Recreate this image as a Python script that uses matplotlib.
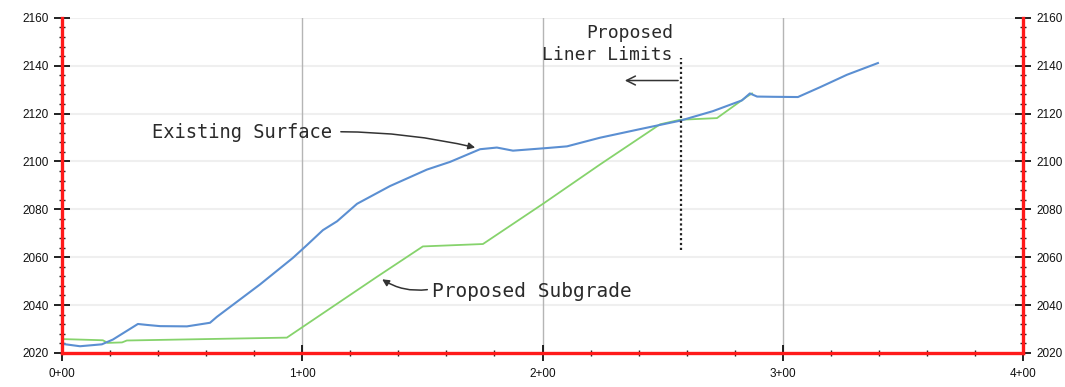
import numpy as np
import matplotlib.pyplot as plt
from matplotlib.ticker import MultipleLocator, FuncFormatter

# station (ft) and elevation (ft) of the existing ground
existing_sta = [0, 7.5, 16.6, 21.2, 31.6, 35.4, 40.8, 52.0, 61.6, 64.5, 82.4, 96.1,
                102.0, 108.6, 114.5, 122.8, 136.5, 151.9, 161.5, 174.0, 181.0, 187.7,
                201.9, 210.2, 223.9, 240.6, 257.2, 270.9, 283.0, 286.3, 289.3, 295.9,
                306.3, 315.5, 326.7, 339.6]
existing_elev = [2023.8, 2022.8, 2023.6, 2025.6, 2032.1, 2031.7, 2031.2, 2031.1, 2032.6,
                 2035.1, 2048.6, 2059.7, 2065.1, 2071.3, 2075.0, 2082.3, 2089.7, 2096.6,
                 2099.8, 2105.1, 2105.8, 2104.5, 2105.6, 2106.3, 2109.9, 2113.5, 2117.0,
                 2121.0, 2125.5, 2128.4, 2127.1, 2127.0, 2126.9, 2131.0, 2136.2, 2141.1]

# proposed subgrade
subgrade_sta = [0, 17.0, 19.0, 25.0, 27.0, 93.6, 131.1, 150.2, 175.2, 200.2, 223.9,
                248.9, 257.2, 272.6, 285.1, 287.2]
subgrade_elev = [2025.8, 2025.3, 2024.2, 2024.4, 2025.2, 2026.4, 2051.8, 2064.5, 2065.5,
                 2082.3, 2098.7, 2115.5, 2117.4, 2118.1, 2127.1, 2128.4]

liner_limit_sta = 257.6

fig = plt.figure(figsize=(10.65, 3.87), dpi=100)
ax = fig.add_axes([0.0582, 0.088, 0.9024, 0.866])

ax.set_xlim(0, 400)
ax.set_ylim(2020, 2160)

# grid
for yy in range(2040, 2161, 20):
    ax.axhline(yy, color='#efefef', lw=1.5, zorder=0)
for xx in (100, 200, 300):
    ax.axvline(xx, color='#b5b5b5', lw=1.0, zorder=0)

ax.plot(subgrade_sta, subgrade_elev, color='#86d36c', lw=1.3, zorder=3)
ax.plot(existing_sta, existing_elev, color='#5b8fd2', lw=1.5, zorder=4)

# spines
for side in ('left', 'right', 'bottom'):
    ax.spines[side].set_color('#ff1a1a')
    ax.spines[side].set_linewidth(2.4)
    ax.spines[side].set_zorder(5)
ax.spines['top'].set_visible(False)

ax.xaxis.set_major_locator(MultipleLocator(100))
ax.xaxis.set_minor_locator(MultipleLocator(20))
ax.yaxis.set_major_locator(MultipleLocator(20))
ax.yaxis.set_minor_locator(MultipleLocator(4))
ax.xaxis.set_major_formatter(FuncFormatter(lambda v, p: f"{int(v // 100)}+{int(v % 100):02d}"))

ax.tick_params(which='major', direction='inout', length=11, width=1.3, color='#111111',
               labelsize=8.5, labelcolor='#111111', left=True, right=True,
               labelleft=True, labelright=True, bottom=True)
ax.tick_params(which='minor', direction='inout', length=5, width=1.0, color='#222222',
               left=True, right=True, bottom=True)
ax.tick_params(axis='x', which='major', pad=5)
ax.tick_params(axis='y', which='major', pad=4)
for lab in ax.get_xticklabels() + ax.get_yticklabels():
    lab.set_fontfamily('Liberation Sans')

txt_kw = dict(family='DejaVu Sans Mono', color='#2a2a2a')

ax.text(37.5, 2112.0, 'Existing Surface', fontsize=13.5, va='center', ha='left', **txt_kw)
ax.annotate('', xy=(173.1, 2105.5), xytext=(114.9, 2112.4),
            arrowprops=dict(arrowstyle='-|>', color='#333333', lw=1.1,
                            mutation_scale=10, connectionstyle='arc3,rad=-0.06'))

ax.text(154.0, 2045.7, 'Proposed Subgrade', fontsize=14, va='center', ha='left', **txt_kw)
ax.annotate('', xy=(132.3, 2051.4), xytext=(153.2, 2046.6),
            arrowprops=dict(arrowstyle='-|>', color='#333333', lw=1.1,
                            mutation_scale=10, connectionstyle='arc3,rad=-0.2'))

ax.text(254.3, 2153.8, 'Proposed', fontsize=13, va='center', ha='right', **txt_kw)
ax.text(254.3, 2144.6, 'Liner Limits', fontsize=13, va='center', ha='right', **txt_kw)
ax.plot([liner_limit_sta, liner_limit_sta], [2062.9, 2143.3], color='#222222',
        lw=1.6, ls=(0, (1, 1.2)), zorder=6)
ax.annotate('', xy=(233.1, 2133.8), xytext=(liner_limit_sta, 2133.8),
            arrowprops=dict(arrowstyle='->', color='#333333', lw=1.1, mutation_scale=16))

fig.savefig('out.png', dpi=100)
